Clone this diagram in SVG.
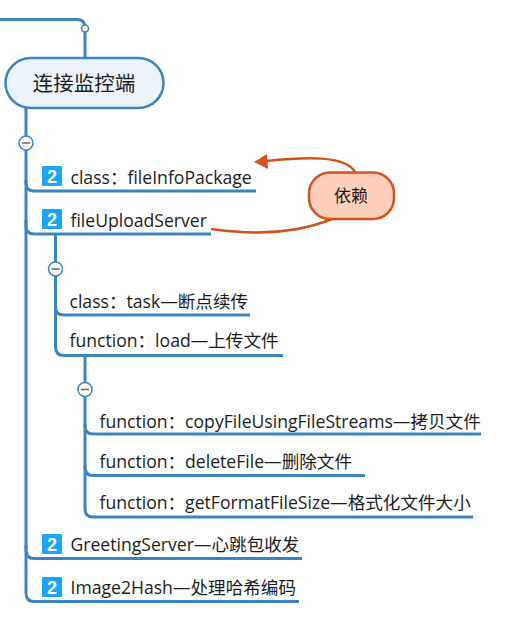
<svg xmlns="http://www.w3.org/2000/svg" width="508" height="622" viewBox="0 0 508 622">
<style>
text{font-family:"Open Sans","Noto Sans CJK SC",sans-serif;font-size:17.6px;fill:#1c1c1c}
.c{fill:none;stroke:#3a84c0;stroke-width:3}
.r{fill:none;stroke:#d2521a;stroke-width:2.5}
.k{fill:#fff;stroke:#3a84c0;stroke-width:1.5}
.m{stroke:#666;stroke-width:1.5}
.i{fill:#1aa5ff}
.n{fill:#fff;font-family:"Liberation Sans",sans-serif;font-weight:bold;font-size:18px;text-anchor:middle}
</style>
<rect width="508" height="622" fill="#fff"/>
<g id="connectors">
<path class="c" d="M0 19.500H77Q85 19.500 85 27.500V58"/>
<path class="c" d="M26 108V183Q26 191 34 191H256"/>
<path class="c" d="M26 180V226Q26 234 34 234H211"/>
<path class="c" d="M26 220V550Q26 558.500 34 558.500H302"/>
<path class="c" d="M26 545V593Q26 601.500 34 601.500H299"/>
<path class="c" d="M55.500 234V307Q55.500 315 63.500 315H250"/>
<path class="c" d="M55.500 305V347Q55.500 355.500 64 355.500H283"/>
<path class="c" d="M85 355.500V426Q85 434 93 434H481"/>
<path class="c" d="M85 424V467Q85 475.500 93 475.500H365"/>
<path class="c" d="M85 465V509Q85 517 93 517H473"/>
<path class="r" d="M355 172C345 155 305 157 266 161"/>
<polygon points="254,162 267,154 268,169" fill="#d2521a"/>
<path class="r" d="M332 219C300 232 260 236 211 229"/>
</g>
<g id="toggles">
<circle class="k" cx="85" cy="28.500" r="3.500"/>
<circle class="k" cx="26" cy="143" r="7"/><path class="m" d="M22 143H30"/>
<circle class="k" cx="55.500" cy="269" r="7"/><path class="m" d="M51.500 269H59.500"/>
<circle class="k" cx="85" cy="389.500" r="7"/><path class="m" d="M81 389.500H89"/>
</g>
<g id="node-root">
<rect x="5.500" y="58" width="158" height="50" rx="25" fill="#ebf2f9" stroke="#3a84c0" stroke-width="2.500"/>
<text x="84" y="91" text-anchor="middle" style="font-size:20.500px">连接监控端</text>
</g>
<g id="node-fileInfoPackage">
<rect class="i" x="42" y="166" width="20" height="20" rx="1"/><text class="n" x="52" y="182.500">2</text>
<text x="70.500" y="184">class：fileInfoPackage</text>
</g>
<g id="node-fileUploadServer">
<rect class="i" x="42" y="209" width="20" height="20" rx="1"/><text class="n" x="52" y="225.500">2</text>
<text x="70.500" y="227">fileUploadServer</text>
</g>
<g id="node-task"><text x="69.500" y="307.500">class：task—断点续传</text></g>
<g id="node-load"><text x="69.500" y="347">function：load—上传文件</text></g>
<g id="node-copy"><text x="99.500" y="427.500">function：copyFileUsingFileStreams—拷贝文件</text></g>
<g id="node-delete"><text x="99.500" y="467.500">function：deleteFile—删除文件</text></g>
<g id="node-size"><text x="99.500" y="508.500">function：getFormatFileSize—格式化文件大小</text></g>
<g id="node-greeting">
<rect class="i" x="42" y="534" width="20" height="20" rx="1"/><text class="n" x="52" y="550.500">2</text>
<text x="70.500" y="551">GreetingServer—心跳包收发</text>
</g>
<g id="node-hash">
<rect class="i" x="42" y="577" width="20" height="20" rx="1"/><text class="n" x="52" y="593.500">2</text>
<text x="70.500" y="594">Image2Hash—处理哈希编码</text>
</g>
<g id="node-relation">
<rect x="309" y="172.500" width="85" height="46.500" rx="21" fill="#fdd0bb" stroke="#d2521a" stroke-width="2.500"/>
<text x="351" y="202" text-anchor="middle" style="font-size:17px">依赖</text>
</g>
</svg>
